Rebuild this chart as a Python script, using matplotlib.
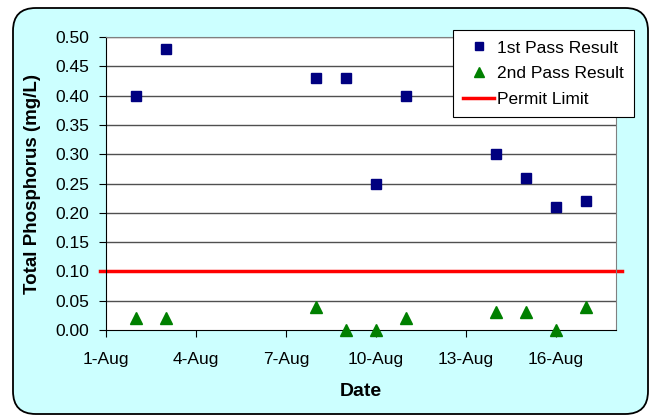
import numpy as np
from matplotlib import pyplot as plt
from matplotlib.patches import FancyBboxPatch

plt.rcParams['font.family'] = ['Liberation Sans', 'DejaVu Sans']

# day of August
first_days = [2, 3, 8, 9, 10, 11, 14, 15, 16, 17]
first_pass = [0.40, 0.48, 0.43, 0.43, 0.25, 0.40, 0.30, 0.26, 0.21, 0.22]
second_days = [2, 3, 8, 9, 10, 11, 14, 15, 16, 17]
second_pass = [0.02, 0.02, 0.04, 0.00, 0.00, 0.02, 0.03, 0.03, 0.00, 0.04]
permit_limit = 0.10
tick_days = [1, 4, 7, 10, 13, 16]
tick_labels = ['%d-Aug' % d for d in tick_days]
y_ticks = np.arange(0, 0.51, 0.05)


def main():
    fig = plt.figure(figsize=(6.51, 4.18), dpi=100)
    fig.patch.set_facecolor('white')
    bg = FancyBboxPatch((13 / 651, 4 / 418), 635 / 651, 406 / 418,
                        boxstyle='round,pad=0,rounding_size=0.035',
                        transform=fig.transFigure, facecolor='#ccffff',
                        edgecolor='black', linewidth=1.3, mutation_aspect=651 / 418,
                        zorder=-10)
    fig.patches.append(bg)

    ax = fig.add_axes([106 / 651, 88 / 418, 510 / 651, 293 / 418])
    ax.set_zorder(1)
    ax.set_facecolor('white')

    for y in y_ticks[1:]:
        ax.axhline(y, color='#505050', lw=1, zorder=1)

    ax.axhline(permit_limit, xmin=-0.012, xmax=1.012, color='red', lw=2.5,
               clip_on=False, zorder=2, label='Permit Limit')
    ax.plot(first_days, first_pass, 's', color='#000080', ms=7, zorder=3,
            label='1st Pass Result', clip_on=False)
    ax.plot(second_days, second_pass, '^', color='#008000', ms=8, zorder=3,
            label='2nd Pass Result', clip_on=False)

    ax.set_xlim(1, 18)
    ax.set_ylim(0, 0.5)
    ax.set_xticks(tick_days)
    ax.set_xticklabels(tick_labels)
    ax.set_yticks(y_ticks)
    ax.set_yticklabels(['%.2f' % v for v in y_ticks])
    ax.tick_params(axis='both', labelsize=12.5, direction='out', length=5, color='black')
    ax.tick_params(axis='x', pad=11)
    ax.tick_params(axis='y', pad=7)

    for s in ['top', 'right']:
        ax.spines[s].set_color('#808080')
    for s in ['left', 'bottom']:
        ax.spines[s].set_color('black')

    ax.set_ylabel('Total Phosphorus (mg/L)', fontsize=13.5, fontweight='bold', labelpad=10)
    ax.set_xlabel('Date', fontsize=14, fontweight='bold', labelpad=11)

    h, l = ax.get_legend_handles_labels()
    order = [1, 2, 0]
    leg = ax.legend([h[i] for i in order], [l[i] for i in order],
                    loc='upper right', bbox_to_anchor=(634 / 651, 1 - 30 / 418),
                    bbox_transform=fig.transFigure, fontsize=12.5, frameon=True,
                    fancybox=False, edgecolor='black', framealpha=1, markerscale=0.85,
                    handlelength=1.8, handletextpad=0.15, borderpad=0.6,
                    labelspacing=0.6, borderaxespad=0)
    leg.get_frame().set_linewidth(0.8)

    fig.savefig('out.png', dpi=100, facecolor=fig.get_facecolor())


if __name__ == '__main__':
    main()
